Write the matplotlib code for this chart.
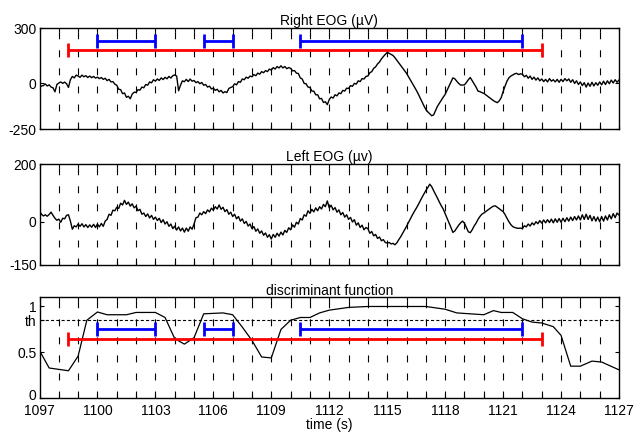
import numpy as np
import matplotlib
matplotlib.use("Agg")
import matplotlib.pyplot as plt
from matplotlib.transforms import ScaledTranslation

plt.rcParams['font.family'] = ['Liberation Sans', 'DejaVu Sans']
plt.rcParams['lines.scale_dashes'] = False
plt.rcParams['font.size'] = 10

# recording window and sampling step of the EOG channels (s)
t_start = 1097.0
t_end = 1127.0
sample_step = 0.1

right_eog = [
    -25, -14, -12, -3, -14, -8, -20, -24, -46, -6,
    2, 8, 0, 7, -2, -22, 20, 38, 30, 45,
    40, 33, 45, 36, 42, 32, 40, 31, 38, 29,
    34, 26, 32, 22, 28, 15, 22, 8, 10, -4,
    -10, -32, -34, -56, -52, -76, -70, -84, -58, -48,
    -49, -34, -37, -20, -24, -6, -10, 8, 3, 20,
    12, 24, 16, 30, 21, 33, 25, 38, 29, 42,
    46, 40, -40, -10, 14, 9, 22, 10, 24, 12,
    16, 4, 10, -2, 5, -10, -6, -20, -15, -30,
    -26, -38, -32, -46, -38, -52, -45, -50, -28, -22,
    -18, -2, -8, 10, 6, 24, 20, 34, 28, 40,
    36, 48, 42, 56, 50, 64, 58, 70, 64, 78,
    72, 86, 78, 92, 84, 96, 84, 92, 80, 86,
    82, 68, 70, 56, 54, 30, 24, 0, -2, -20,
    -22, -42, -42, -62, -62, -84, -82, -104, -100, -116,
    -88, -74, -80, -62, -68, -52, -56, -38, -42, -26,
    -28, -12, -16, 0, -4, 14, 10, 26, 24, 38,
    40, 58, 64, 82, 90, 106, 116, 133, 146, 158,
    168, 164, 158, 152, 140, 126, 112, 97, 84, 70,
    55, 37, 20, 2, -17, -36, -56, -78, -100, -122,
    -142, -155, -165, -176, -172, -148, -125, -108, -92, -75,
    -60, -38, -15, 8, 30, 25, 12, 0, -9, -9,
    -8, 5, 20, 32, 15, -2, -20, -42, -45, -50,
    -54, -62, -70, -78, -86, -94, -100, -105, -95, -78,
    -45, -15, 12, 30, 40, 46, 52, 55, 48, 52,
    50, 36, 44, 28, 40, 22, 34, 18, 30, 14,
    24, 10, 22, 8, 26, 12, 20, 8, 22, 6,
    22, 10, 26, 14, 24, 6, 20, 0, 14, -6,
    8, -12, 4, -20, 2, -16, 6, -14, 4, -10,
    8, -8, 12, -6, 14, -2, 18, 2, 20, 6,
    18,
]

left_eog = [
    38, 26, 20, 24, 19, 25, 33, 22, 12, 5,
    9, -2, 12, 10, 22, 24, 2, -26, -14, -18,
    -8, -16, -7, -18, -10, -20, -11, -19, -9, -20,
    -8, -18, -6, -16, 2, 8, 26, 22, 40, 38,
    50, 46, 64, 58, 74, 60, 68, 54, 62, 48,
    54, 38, 43, 26, 30, 18, 27, 13, 22, 8,
    16, 4, 12, -3, 7, -8, 0, -16, -8, -24,
    -15, -29, -18, -32, -22, -36, -22, -33, -18, -26,
    -8, 14, 16, 30, 24, 35, 28, 41, 34, 47,
    40, 52, 44, 58, 43, 50, 35, 42, 26, 33,
    18, 26, 10, 18, 2, 10, -6, 1, -15, -8,
    -24, -17, -33, -25, -40, -32, -47, -39, -54, -45,
    -60, -44, -54, -40, -50, -36, -46, -30, -37, -21,
    -28, -11, -19, -2, -8, 11, 6, 24, 19, 38,
    29, 43, 34, 48, 38, 52, 44, 60, 52, 72,
    48, 57, 41, 49, 33, 41, 24, 32, 16, 24,
    8, 15, -1, 7, -12, -4, -20, -12, -28, -20,
    -24, -40, -34, -49, -44, -58, -53, -66, -62, -72,
    -74, -72, -77, -75, -80, -73, -62, -52, -40, -28,
    -16, -3, 10, 23, 35, 46, 58, 71, 84, 96,
    108, 118, 130, 122, 108, 95, 82, 68, 55, 44,
    28, 12, -4, -20, -37, -32, -22, -12, -4, 2,
    -5, -20, -35, -38, -28, -15, -5, 8, 18, 26,
    30, 35, 40, 45, 50, 54, 55, 50, 45, 40,
    35, 25, 12, 0, -10, -17, -20, -22, -23, -22,
    -24, -14, -18, -8, -15, -4, -11, 0, -7, 4,
    -5, 6, -4, 7, -3, 9, -4, 10, -2, 11,
    -2, 12, 0, 14, 2, 16, 4, 18, 6, 20,
    6, 24, 8, 26, 8, 22, 3, 18, 2, 16,
    0, 18, 2, 20, 6, 24, 10, 28, 14, 30,
    23,
]

# discriminant function output
disc_time = [1097, 1097.5, 1098.5, 1099, 1099.45, 1100, 1100.5, 1101.5, 1102,
             1103, 1103.5, 1104, 1104.5, 1105, 1105.5, 1106.5, 1107, 1107.5,
             1108, 1108.5, 1109, 1109.5, 1110, 1110.5, 1111, 1111.5, 1112,
             1113, 1114, 1117, 1118, 1118.6, 1120, 1120.5, 1120.9, 1121.5,
             1122, 1122.5, 1123, 1123.6, 1124, 1124.5, 1125, 1125.6, 1126.1,
             1127]
disc_value = [0.52, 0.33, 0.30, 0.46, 0.85, 0.94, 0.91, 0.91, 0.935,
              0.935, 0.88, 0.65, 0.59, 0.66, 0.92, 0.93, 0.91, 0.775,
              0.63, 0.45, 0.44, 0.75, 0.85, 0.88, 0.88, 0.93, 0.96,
              0.99, 1.0, 1.0, 0.97, 0.93, 0.91, 0.955, 0.935, 0.935,
              0.866, 0.83, 0.82, 0.78, 0.685, 0.35, 0.35, 0.405, 0.395,
              0.31]
threshold = 0.85

# detected events (blue) and annotated reading period (red), in seconds
detected_intervals = [(1100.0, 1103.0), (1105.5, 1107.0), (1110.5, 1122.0)]
annotated_interval = (1098.5, 1123.0)

time = t_start + sample_step * np.arange(len(right_eog))

fig = plt.figure(figsize=(6.39, 4.32), dpi=100)
W, H = 639.0, 432.0
left_px, right_px = 39.5, 619.0
panel_px = [(28.3, 129.3), (164.0, 265.0), (297.3, 398.3)]
axes = []
for top, bottom in panel_px:
    ax = fig.add_axes([left_px / W, 1 - bottom / H,
                       (right_px - left_px) / W, (bottom - top) / H])
    axes.append(ax)

sec_ticks = np.arange(1097, 1128, 1)
label_ticks = np.arange(1097, 1128, 3)

for ax in axes:
    ax.set_xlim(t_start, t_end)
    for s in sec_ticks[1:-1]:
        ax.axvline(s, color='k', lw=0.8, linestyle=(0, (5, 8)), zorder=1)
    ax.set_xticks(sec_ticks)
    ax.tick_params(direction='in', top=True, right=True, length=3,
                   width=0.8, labelsize=10)
    ax.tick_params(axis='y', pad=2)
    ax.tick_params(axis='x', pad=4)
    for sp in ax.spines.values():
        sp.set_linewidth(1.0)


def draw_interval(ax, span, level, color):
    ax.plot(span, [level, level], color=color, lw=2, marker='|',
            markersize=10, markeredgewidth=2, solid_capstyle='butt', zorder=3)


# Right EOG
ax = axes[0]
ax.plot(time, right_eog, color='k', lw=1.0, zorder=2)
ax.set_ylim(-250, 300)
ax.set_yticks([-250, 0, 300])
ax.set_yticklabels(['-250', '0', '300'])
ax.set_xticklabels([])
for span in detected_intervals:
    draw_interval(ax, span, 230, 'blue')
draw_interval(ax, annotated_interval, 180, 'red')
ax.set_title('Right EOG (\u00b5V)', fontsize=10, pad=2)

# Left EOG
ax = axes[1]
ax.plot(time, left_eog, color='k', lw=1.0, zorder=2)
ax.set_ylim(-150, 200)
ax.set_yticks([-150, 0, 200])
ax.set_yticklabels(['-150', '0', '200'])
ax.set_xticklabels([])
ax.set_title('Left EOG (\u00b5v)', fontsize=10, pad=2)

# discriminant function
ax = axes[2]
ax.plot(disc_time, disc_value, color='k', lw=0.9, zorder=2)
ax.axhline(threshold, color='k', lw=0.8, linestyle=(0, (2.2, 1.6)), zorder=1)
for span in detected_intervals:
    draw_interval(ax, span, 0.75, 'blue')
draw_interval(ax, annotated_interval, 0.65, 'red')
ax.set_ylim(0, 1.1)
ax.set_yticks([0, 0.5, threshold, 1])
ax.set_yticklabels(['0', '0.5', 'th', '1'])
# lift the bottom "0" a touch so it clears the first time label
zero_lbl = ax.get_yticklabels()[0]
zero_lbl.set_transform(zero_lbl.get_transform()
                       + ScaledTranslation(0, 3.0 / 72, fig.dpi_scale_trans))
ax.set_xticklabels([str(v) if v in label_ticks else '' for v in sec_ticks])
ax.set_xlabel('time (s)', fontsize=10)
ax.xaxis.set_label_coords(0.5, -0.196)
ax.set_title('discriminant function', fontsize=10, pad=2)

fig.savefig('out.png', dpi=100)
